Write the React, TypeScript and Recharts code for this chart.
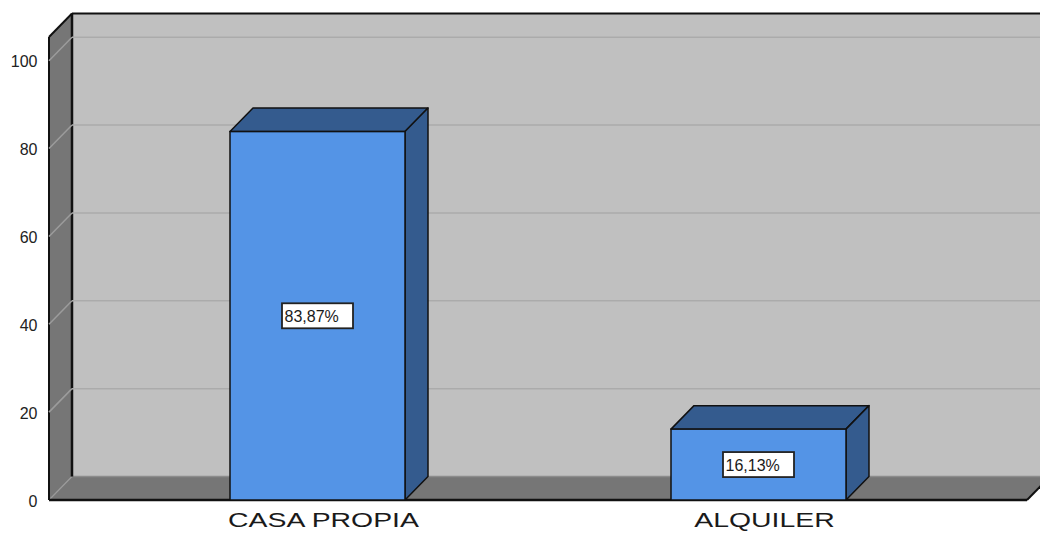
import React from 'react';
import { BarChart, Bar, XAxis, YAxis, ReferenceArea, ReferenceLine, LabelList } from 'recharts';

const categories = ['CASA PROPIA', 'ALQUILER'];
const percentages = [83.87, 16.13];
const valueLabels = ['83,87%', '16,13%'];
const yTicks = [0, 20, 40, 60, 80, 100];
const gridValues = [20, 40, 60, 80, 100];
const Y_MAX = 105.4;

const data = categories.map((c, i) => ({ name: c, value: percentages[i], label: valueLabels[i] }));

const DX = 23;
const DY = 23.5;
const PAD = 48;
const FONT = '"Liberation Sans", Arial, sans-serif';

const Walls = (props: any) => {
  const x = props.x - PAD;
  const r = props.x + props.width + PAD;
  const { y, height } = props;
  const b = y + height;
  return (
    <g>
      <polygon points={`${x + DX},${y - DY} ${r + DX},${y - DY} ${r + DX},${b - DY} ${x + DX},${b - DY}`} fill="#c0c0c0" />
      <polygon points={`${x},${y} ${x + DX},${y - DY} ${x + DX},${b - DY} ${x},${b}`} fill="#767676" />
      <polygon points={`${x},${b} ${x + DX},${b - DY} ${r + DX},${b - DY} ${r},${b}`} fill="#767676" />
      <line x1={x + DX} y1={b - DY} x2={r + DX} y2={b - DY} stroke="#8c8c8c" strokeWidth={1.5} />
      <line x1={x} y1={b} x2={x + DX} y2={b - DY} stroke="#9a9a9a" strokeWidth={1.2} />
      <line x1={x + DX} y1={y - DY} x2={r + DX + 5} y2={y - DY} stroke="#111" strokeWidth={2} />
      <line x1={x} y1={y} x2={x + DX} y2={y - DY} stroke="#111" strokeWidth={2} />
      <line x1={x} y1={y} x2={x} y2={b} stroke="#111" strokeWidth={2} />
      <line x1={x + DX} y1={y - DY} x2={x + DX} y2={b - DY} stroke="#111" strokeWidth={2.5} />
      <line x1={x} y1={b} x2={r} y2={b} stroke="#111" strokeWidth={2.5} />
      <line x1={r} y1={b} x2={r + DX} y2={b - DY} stroke="#111" strokeWidth={2} />
    </g>
  );
};

const GridLine3D = (props: any) => {
  const { x1, y1, x2, y2 } = props;
  return (
    <g>
      <line x1={x1} y1={y1} x2={x1 + DX} y2={y1 - DY} stroke="#9c9c9c" strokeWidth={1.5} />
      <line x1={x1 + DX} y1={y1 - DY} x2={x2 + DX + 5} y2={y2 - DY} stroke="#ababab" strokeWidth={1.5} />
    </g>
  );
};

const Bar3D = (props: any) => {
  const { x, y, width, height } = props;
  const b = y + height;
  const r = x + width;
  return (
    <g>
      <polygon points={`${x},${y} ${x + DX},${y - DY} ${r + DX},${y - DY} ${r},${y}`} fill="#345b8e" stroke="#111" strokeWidth={1.5} strokeLinejoin="round" />
      <polygon points={`${r},${y} ${r + DX},${y - DY} ${r + DX},${b - DY} ${r},${b}`} fill="#345b8e" stroke="#111" strokeWidth={1.5} strokeLinejoin="round" />
      <rect x={x} y={y} width={width} height={height} fill="#5494e6" stroke="#111" strokeWidth={1.5} />
    </g>
  );
};

const ValueBox = (props: any) => {
  const vb = props.viewBox && props.viewBox.width !== undefined ? props.viewBox : props;
  const { x, y, width, height } = vb;
  const cx = x + width / 2;
  const cy = y + height / 2;
  return (
    <g>
      <rect x={cx - 35.5} y={cy - 12.5} width={71} height={25} fill="#ffffff" stroke="#222" strokeWidth={1.8} />
      <text x={cx - 33} y={cy + 1} dominantBaseline="central" fontSize={16} fontFamily={FONT} fill="#1a1a1a">
        {props.value}
      </text>
    </g>
  );
};

const XTick = (props: any) => {
  const { x, y, payload } = props;
  return (
    <text transform={`translate(${x + 6},${y + 27}) scale(1.42,1)`} textAnchor="middle" fontSize={20} fontFamily={FONT} fill="#1a1a1a">
      {payload.value}
    </text>
  );
};

const YTick = (props: any) => {
  const { x, y, payload } = props;
  return (
    <text x={x - 11.5} y={y + 1} textAnchor="end" dominantBaseline="central" fontSize={16} fontFamily={FONT} fill="#222">
      {payload.value}
    </text>
  );
};

export default function App() {
  return (
    <div style={{ position: 'absolute', left: 0, top: 0, width: 1040, height: 533, background: '#fff' }}>
      <BarChart width={1040} height={533} data={data} margin={{ top: 37, right: 13, bottom: 0, left: 0 }} barCategoryGap={0}>
        <XAxis dataKey="name" axisLine={false} tickLine={false} tickSize={0} tickMargin={0} height={33} padding={{ left: PAD, right: PAD }} tick={<XTick />} interval={0} />
        <YAxis domain={[0, Y_MAX]} ticks={yTicks} axisLine={false} tickLine={false} tickSize={0} tickMargin={0} width={49} tick={<YTick />} />
        <ReferenceArea y1={0} y2={Y_MAX} shape={<Walls />} zIndex={-200} ifOverflow="visible" />
        {gridValues.map((v) => (
          <ReferenceLine key={v} y={v} shape={<GridLine3D />} zIndex={-150} />
        ))}
        <Bar dataKey="value" barSize={175} shape={<Bar3D />} isAnimationActive={false}>
          <LabelList dataKey="label" content={<ValueBox />} />
        </Bar>
      </BarChart>
    </div>
  );
}
